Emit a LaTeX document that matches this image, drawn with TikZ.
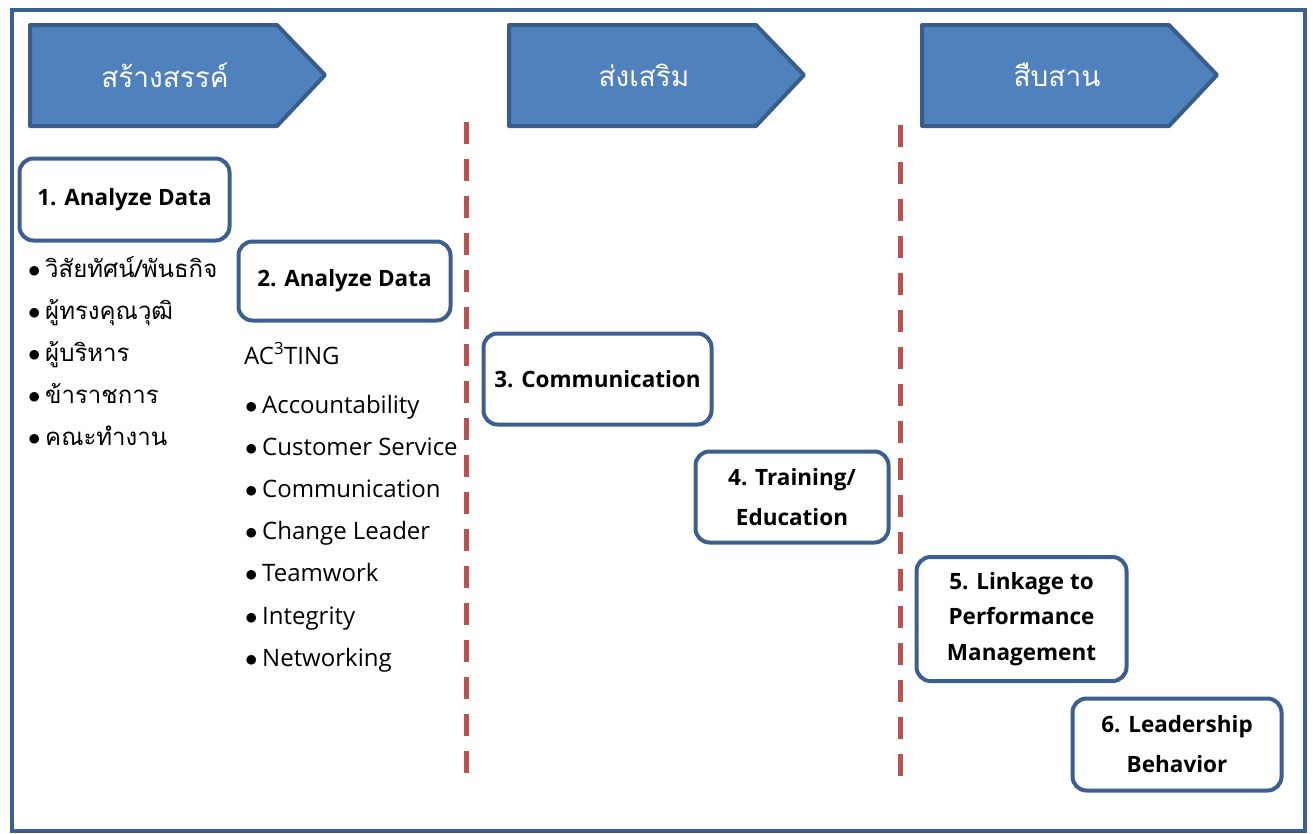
\documentclass[tikz,border=0pt]{standalone}
\usepackage{fontspec}
\setmainfont{Open Sans}
\newfontfamily\thaifont[Script=Thai]{Loma}
\usetikzlibrary{positioning}
\definecolor{headfill}{HTML}{4F81BD}
\definecolor{headline}{HTML}{385D8A}
\definecolor{boxline}{HTML}{3C5F91}
\definecolor{dashred}{HTML}{C0504D}
\newcommand{\dotmark}{\makebox[17pt][l]{$\bullet$}}
\tikzset{
	header/.style = {draw = headline, fill = headfill, line width = 4pt, line join = round},
	headtext/.style = {text = white, inner sep = 0pt, font = \thaifont\fontsize{28}{30}\selectfont},
	stagebox/.style = {draw = boxline, line width = 4pt, rounded corners = 14pt, fill = white, align = center, inner sep = 0pt},
	divider/.style = {draw = dashred, line width = 5pt, dash pattern = on 22pt off 15pt},
	listitem/.style = {anchor = base west, inner sep = 0pt, font = \fontsize{24}{26}\selectfont}
}
\begin{document}
\begin{tikzpicture}[x = 1pt, y = -1pt]
			\useasboundingbox (0,0) rectangle (1313,833);
			\draw[draw = boxline, line width = 4pt] (12,10) rectangle (1305,831);
			% stages
			\draw[header] (30,25) -- (277,25) -- (325,75) -- (277,126) -- (30,126) -- cycle;
			\node[headtext] (create) at (165,75) {สร้างสรรค์};
			\draw[header] (509,25) -- (756,25) -- (804,75) -- (756,126) -- (509,126) -- cycle;
			\node[headtext] (promote) at (644,75) {ส่งเสริม};
			\draw[header] (922,25) -- (1169,25) -- (1217,75) -- (1169,126) -- (922,126) -- cycle;
			\node[headtext] (inherit) at (1057,75) {สืบสาน};
			\coordinate (cut1top) at (466,122);
			\coordinate (cut1bot) at (466,780);
			\coordinate (cut2top) at (900,125);
			\coordinate (cut2bot) at (900,780);
			\draw[divider] (cut1top) -- (cut1bot);
			\draw[divider] (cut2top) -- (cut2bot);
			% steps
			\node[stagebox, minimum width = 210pt, minimum height = 82pt, font = \bfseries\fontsize{22.5}{25}\selectfont] (analyze1) at (124.5,199.5) {1. Analyze Data};
			\node[stagebox, minimum width = 212pt, minimum height = 79pt, font = \bfseries\fontsize{22.5}{25}\selectfont] (analyze2) at (344.5,281) {2. Analyze Data};
			\node[stagebox, minimum width = 228pt, minimum height = 91pt, font = \bfseries\fontsize{22.5}{25}\selectfont] (communicate) at (597.5,379) {3. Communication};
			\node[stagebox, minimum width = 193pt, minimum height = 91pt, font = \bfseries\fontsize{22.5}{40}\selectfont] (training) at (792,497) {4. Training/\\Education};
			\node[stagebox, minimum width = 210pt, minimum height = 124pt, font = \bfseries\fontsize{22.5}{35.5}\selectfont] (linkage) at (1021.5,619) {5. Linkage to\\Performance\\Management};
			\node[stagebox, minimum width = 209pt, minimum height = 92pt, font = \bfseries\fontsize{22.5}{40}\selectfont] (leadership) at (1177,744.5) {6. Leadership\\Behavior};
			% lists
			\foreach \word [count = \i] in {วิสัยทัศน์/พันธกิจ, ผู้ทรงคุณวุฒิ, ผู้บริหาร, ข้าราชการ, คณะทำงาน}
				\node[listitem] (source\i) at (28, 277 + 42 * \i - 42) {\dotmark\thaifont\word};
			\node[listitem] (acting) at (244,364) {AC\textsuperscript{3}TING};
			\foreach \word [count = \i] in {Accountability, Customer Service, Communication, Change Leader, Teamwork, Integrity, Networking}
				\node[listitem] (value\i) at (245, 413 + 42.2 * \i - 42.2) {\dotmark\word};
		\end{tikzpicture}
\end{document}
